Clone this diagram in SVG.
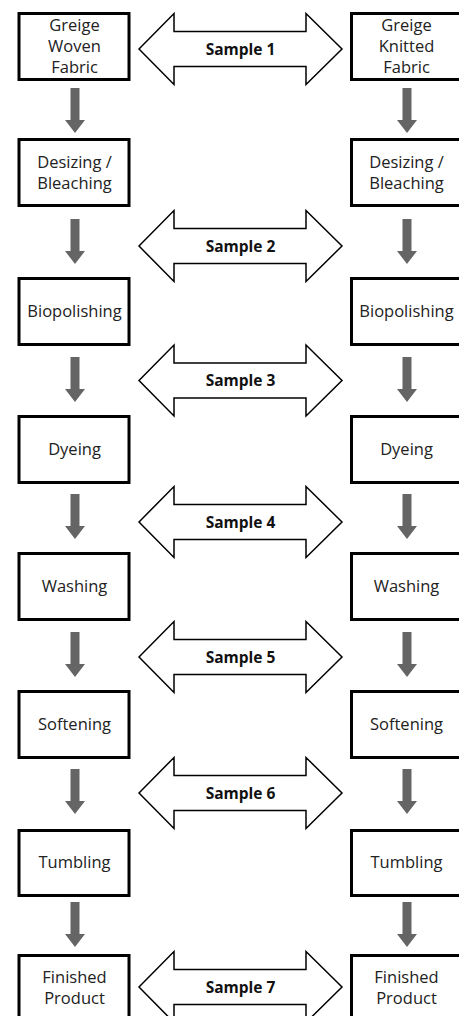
<svg xmlns="http://www.w3.org/2000/svg" width="459" height="1016" viewBox="0 0 459 1016">
<defs>
<style>
.box{fill:#fff;stroke:#000;stroke-width:3}
.t{font-family:"Open Sans","Noto Sans","Liberation Sans",sans-serif;font-size:16.5px;fill:#222;text-anchor:middle}
.s{font-family:"Open Sans","Noto Sans","Liberation Sans",sans-serif;font-size:15.5px;font-weight:bold;fill:#111;text-anchor:middle}
.dn{fill:#656565}
.dbl{fill:#fff;stroke:#000;stroke-width:1.5;stroke-linejoin:miter}
</style>
<path id="down" d="M-4.5,0 H4.5 V32 H10 L0,45 L-10,32 H-4.5 Z"/>
<path id="dbl" d="M139,0 L174,-35.5 V-17.5 H306 V-35.5 L342,0 L306,35.5 V17.5 H174 V35.5 Z"/>
</defs>
<rect width="459" height="1016" fill="#fff"/>

<g id="connectors">
  <g class="dn">
    <use href="#down" x="75" y="88"/>
    <use href="#down" x="407" y="88"/>
    <use href="#down" x="75" y="219"/>
    <use href="#down" x="407" y="219"/>
    <use href="#down" x="75" y="357"/>
    <use href="#down" x="407" y="357"/>
    <use href="#down" x="75" y="494"/>
    <use href="#down" x="407" y="494"/>
    <use href="#down" x="75" y="632"/>
    <use href="#down" x="407" y="632"/>
    <use href="#down" x="75" y="769"/>
    <use href="#down" x="407" y="769"/>
    <use href="#down" x="75" y="902"/>
    <use href="#down" x="407" y="902"/>
  </g>
  <g id="sample1"><use href="#dbl" class="dbl" y="49"/><text class="s" x="240.5" y="54.5">Sample 1</text></g>
  <g id="sample2"><use href="#dbl" class="dbl" y="246"/><text class="s" x="240.5" y="251.5">Sample 2</text></g>
  <g id="sample3"><use href="#dbl" class="dbl" y="380.5"/><text class="s" x="240.5" y="386">Sample 3</text></g>
  <g id="sample4"><use href="#dbl" class="dbl" y="522"/><text class="s" x="240.5" y="527.5">Sample 4</text></g>
  <g id="sample5"><use href="#dbl" class="dbl" y="657"/><text class="s" x="240.5" y="662.5">Sample 5</text></g>
  <g id="sample6"><use href="#dbl" class="dbl" y="793"/><text class="s" x="240.5" y="798.5">Sample 6</text></g>
  <g id="sample7"><use href="#dbl" class="dbl" y="987"/><text class="s" x="240.5" y="992.5">Sample 7</text></g>
</g>

<g id="greige-woven"><rect class="box" x="19" y="13.5" width="110" height="66"/>
  <text class="t" x="74.5" y="31">Greige</text><text class="t" x="74.5" y="52">Woven</text><text class="t" x="74.5" y="73">Fabric</text></g>
<g id="greige-knitted"><rect class="box" x="351.5" y="13.5" width="110" height="66"/>
  <text class="t" x="406.5" y="31">Greige</text><text class="t" x="406.5" y="52">Knitted</text><text class="t" x="406.5" y="73">Fabric</text></g>

<g id="desizing-l"><rect class="box" x="19" y="139.5" width="110" height="66"/>
  <text class="t" x="74.5" y="168">Desizing /</text><text class="t" x="74.5" y="189">Bleaching</text></g>
<g id="desizing-r"><rect class="box" x="351.5" y="139.5" width="110" height="66"/>
  <text class="t" x="406.5" y="168">Desizing /</text><text class="t" x="406.5" y="189">Bleaching</text></g>

<g id="biopolishing-l"><rect class="box" x="19" y="278.5" width="110" height="66"/>
  <text class="t" x="74.5" y="317">Biopolishing</text></g>
<g id="biopolishing-r"><rect class="box" x="351.5" y="278.5" width="110" height="66"/>
  <text class="t" x="406.5" y="317">Biopolishing</text></g>

<g id="dyeing-l"><rect class="box" x="19" y="416.5" width="110" height="66"/>
  <text class="t" x="74.5" y="454.5">Dyeing</text></g>
<g id="dyeing-r"><rect class="box" x="351.5" y="416.5" width="110" height="66"/>
  <text class="t" x="406.5" y="454.5">Dyeing</text></g>

<g id="washing-l"><rect class="box" x="19" y="553.5" width="110" height="66"/>
  <text class="t" x="74.5" y="592">Washing</text></g>
<g id="washing-r"><rect class="box" x="351.5" y="553.5" width="110" height="66"/>
  <text class="t" x="406.5" y="592">Washing</text></g>

<g id="softening-l"><rect class="box" x="19" y="691.5" width="110" height="66"/>
  <text class="t" x="74.5" y="729.5">Softening</text></g>
<g id="softening-r"><rect class="box" x="351.5" y="691.5" width="110" height="66"/>
  <text class="t" x="406.5" y="729.5">Softening</text></g>

<g id="tumbling-l"><rect class="box" x="19" y="830.5" width="110" height="65"/>
  <text class="t" x="74.5" y="868">Tumbling</text></g>
<g id="tumbling-r"><rect class="box" x="351.5" y="830.5" width="110" height="65"/>
  <text class="t" x="406.5" y="868">Tumbling</text></g>

<g id="finished-l"><rect class="box" x="19" y="955.5" width="110" height="66"/>
  <text class="t" x="74.5" y="982.5">Finished</text><text class="t" x="74.5" y="1003.5">Product</text></g>
<g id="finished-r"><rect class="box" x="351.5" y="955.5" width="110" height="66"/>
  <text class="t" x="406.5" y="982.5">Finished</text><text class="t" x="406.5" y="1003.5">Product</text></g>
</svg>
